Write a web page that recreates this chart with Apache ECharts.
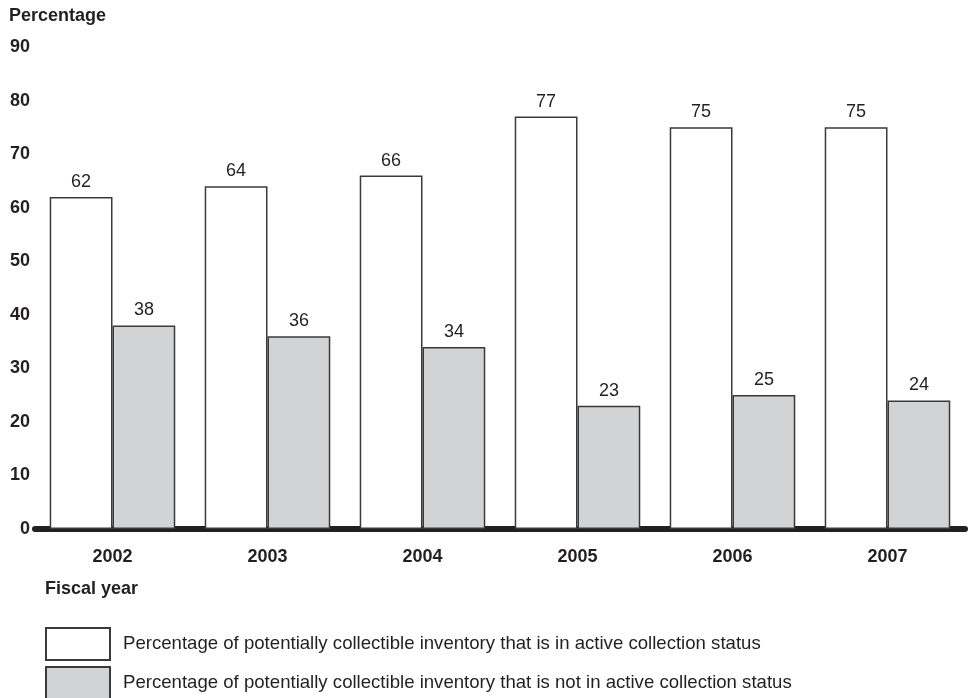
<!DOCTYPE html>
<html>
<head>
<meta charset="utf-8">
<script src="https://cdn.jsdelivr.net/npm/echarts@6/dist/echarts.min.js"></script>
<style>
html,body{margin:0;padding:0;background:#fff;}
#chart{width:970px;height:698px;}
</style>
</head>
<body>
<div id="chart"></div>
<script>
var years = ['2002', '2003', '2004', '2005', '2006', '2007'];
var activeValues = [62, 64, 66, 77, 75, 75];
var notActiveValues = [38, 36, 34, 23, 25, 24];
var activeName = 'Percentage of potentially collectible inventory that is in active collection status';
var notActiveName = 'Percentage of potentially collectible inventory that is not in active collection status';

var FONT = '"Liberation Sans", Arial, Helvetica, sans-serif';
var INK = '#231f20';

function legendBox(name, top) {
  return {
    orient: 'vertical',
    left: 45,
    top: top,
    padding: 0,
    itemWidth: 64,
    itemHeight: 32,
    icon: 'rect',
    textStyle: {fontFamily: FONT, fontSize: 18.6, color: INK, padding: [3, 0, 0, 8]},
    data: [name]
  };
}

var chart = echarts.init(document.getElementById('chart'), null, {renderer: 'canvas'});
chart.setOption({
  animation: false,
  backgroundColor: '#ffffff',
  textStyle: {fontFamily: FONT},
  title: [
    {text: 'Percentage', left: 9, top: 5, padding: [2, 0, 0, 0],
     textStyle: {fontFamily: FONT, fontSize: 18, fontWeight: 'bold', color: INK}},
    {text: 'Fiscal year', left: 45, top: 578, padding: [2, 0, 0, 0],
     textStyle: {fontFamily: FONT, fontSize: 18, fontWeight: 'bold', color: INK}}
  ],
  legend: [legendBox(activeName, 627), legendBox(notActiveName, 666)],
  grid: {left: 35, right: 5, top: 47, bottom: 169, containLabel: false},
  xAxis: {
    type: 'category',
    data: years,
    offset: 2,
    axisLine: {show: true, lineStyle: {color: INK, width: 6}},
    axisTick: {show: false},
    axisLabel: {margin: 17, fontFamily: FONT, fontSize: 18, fontWeight: 'bold', color: INK},
    splitLine: {show: false}
  },
  yAxis: {
    type: 'value',
    min: 0,
    max: 90,
    interval: 10,
    axisLine: {show: false},
    axisTick: {show: false},
    splitLine: {show: false},
    axisLabel: {margin: 5, fontFamily: FONT, fontSize: 18, fontWeight: 'bold', color: INK}
  },
  series: [
    {
      name: activeName,
      type: 'bar',
      data: activeValues,
      barGap: '0%',
      barCategoryGap: '19%',
      itemStyle: {color: '#ffffff', borderColor: '#3a3a3a', borderWidth: 1.5},
      label: {show: true, position: 'top', distance: 6, fontFamily: FONT, fontSize: 18, color: INK}
    },
    {
      name: notActiveName,
      type: 'bar',
      data: notActiveValues,
      barGap: '0%',
      barCategoryGap: '19%',
      itemStyle: {color: '#d1d3d4', borderColor: '#3a3a3a', borderWidth: 1.5},
      label: {show: true, position: 'top', distance: 6, fontFamily: FONT, fontSize: 18, color: INK}
    }
  ]
});
</script>
</body>
</html>
